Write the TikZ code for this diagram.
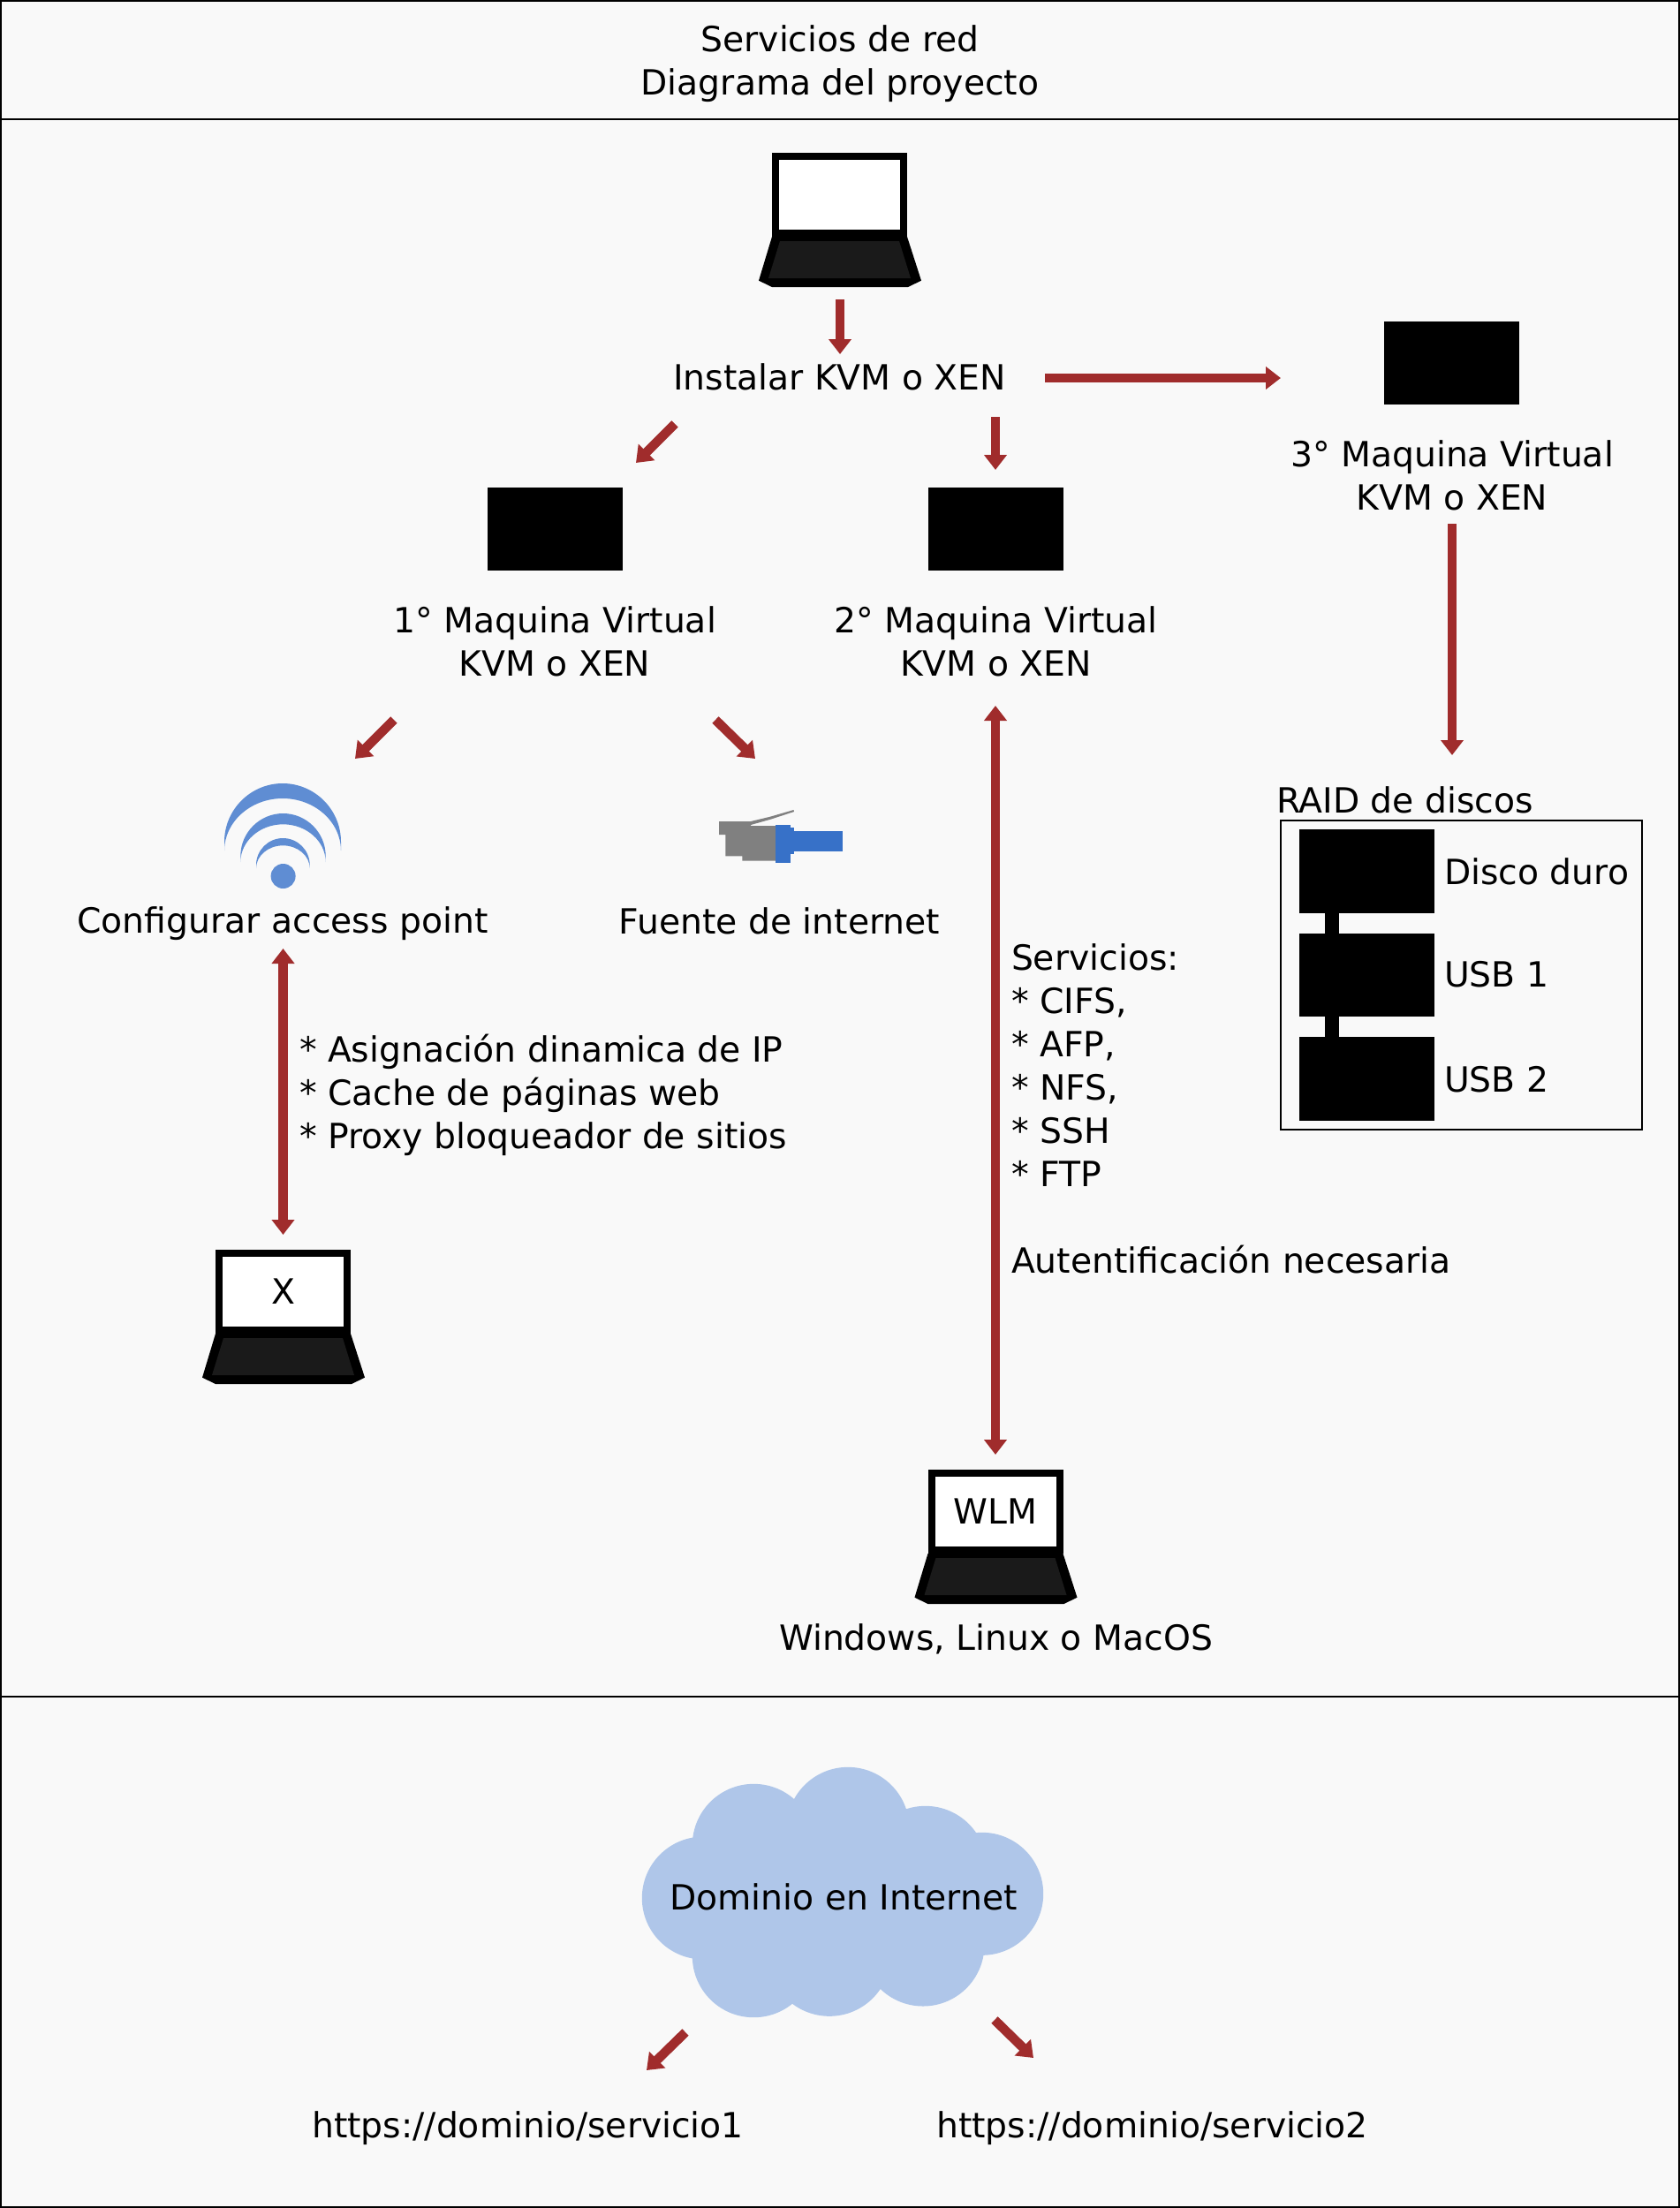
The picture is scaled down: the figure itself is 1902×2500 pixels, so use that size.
\documentclass[tikz,border=0pt]{standalone}
\usepackage{fontspec}
\setmainfont{DejaVu Sans}
\usetikzlibrary{arrows.meta}
\definecolor{paneFill}{HTML}{F9F9F9}
\definecolor{arrowRed}{HTML}{A02C2C}
\definecolor{wifiBlue}{HTML}{5F8DD3}
\definecolor{cloudBlue}{HTML}{AFC6E9}
\definecolor{plugBlue}{HTML}{3771C8}
\definecolor{keyDark}{HTML}{1A1A1A}
\definecolor{plugGray}{HTML}{808080}
\tikzset{
  pane/.style={draw=black,line width=2pt,fill=paneFill},
  lab/.style={inner sep=0pt,outer sep=0pt,align=center,font=\fontsize{39.3}{49}\selectfont},
  labl/.style={lab,align=left},
  arr/.style={draw=arrowRed,line width=10.5pt,-{Triangle[width=25pt,length=17pt,fill=arrowRed]}},
  arrb/.style={draw=arrowRed,line width=10.5pt,{Triangle[width=25pt,length=17pt,fill=arrowRed]}-{Triangle[width=25pt,length=17pt,fill=arrowRed]}},
  blk/.style={fill=black,inner sep=0pt,outer sep=0pt,minimum width=153pt,minimum height=94.6pt},
  screen/.style={draw=black,fill=white,line width=8pt,inner sep=0pt,outer sep=0pt,minimum width=145pt,minimum height=87pt,font=\fontsize{39.3}{49}\selectfont},
}
\newcommand{\Laptop}[4]{%
  \begin{scope}[shift={(#2,#3)}]
    \fill[black] (-76.5,95) -- (76.5,95) -- (92.5,144.7) -- (77.5,152) -- (-76.5,152) -- (-91.5,144.7) -- cycle;
    \fill[keyDark] (-67.5,100) -- (67.5,100) -- (80.5,142) -- (-80.5,142) -- cycle;
    \node[screen] (#1) at (0,47.5) {#4};
  \end{scope}}
\newcommand{\Crescent}[5]{% left, right, top, innertop, tip
  \fill[wifiBlue] (#1,#5) -- (#1,{#3+(#2-#1)/2}) .. controls (#1,{#3+0.45*(#2-#1)/2}) and ({(#1+#2)/2-0.55*(#2-#1)/2},#3) .. ({(#1+#2)/2},#3)
    .. controls ({(#1+#2)/2+0.55*(#2-#1)/2},#3) and (#2,{#3+0.45*(#2-#1)/2}) .. (#2,{#3+(#2-#1)/2}) -- (#2,#5)
    .. controls (#2,{#5-0.55*(#5-#4)}) and ({(#1+#2)/2+0.55*(#2-#1)/2},#4) .. ({(#1+#2)/2},#4)
    .. controls ({(#1+#2)/2-0.55*(#2-#1)/2},#4) and (#1,{#5-0.55*(#5-#4)}) .. (#1,#5) -- cycle;}
\begin{document}
\begin{tikzpicture}[x=1pt,y=-1pt]
\useasboundingbox (0,0) rectangle (1902,2500);
% panels
\draw[pane] (1,1) rectangle (1901,135);
\draw[pane] (1,135) rectangle (1901,1920.5);
\draw[pane] (1,1920.5) rectangle (1901,2499);
\node[lab] (title) at (951,72) {Servicios de red\\Diagrama del proyecto};
% laptops
\Laptop{lapTop}{950.5}{173}{}
\Laptop{lapX}{320.5}{1415}{X}
\Laptop{lapW}{1127}{1664}{WLM}
% main labels
\node[lab] (inst) at (950.5,427) {Instalar KVM o XEN};
\node[blk] (vmA) at (628,599) {};
\node[blk] (vmB) at (1127,599) {};
\node[blk] (vmC) at (1643.5,411) {};
\node[lab] (labA) at (628,726) {1° Maquina Virtual\\KVM o XEN};
\node[lab] (labB) at (1127.5,726) {2° Maquina Virtual\\KVM o XEN};
\node[lab] (labC) at (1644,538) {3° Maquina Virtual\\KVM o XEN};
% wifi icon
\Crescent{254}{386}{887}{904}{963}
\Crescent{272.3}{368.7}{921}{933.3}{976}
\Crescent{290}{350.7}{949}{957.3}{983}
\node[fill=wifiBlue,circle,inner sep=0pt,outer sep=0pt,minimum size=28pt] (ap) at (320.6,992) {};
\node[lab] (apLab) at (320,1046) {Configurar access point};
% plug icon
\fill[plugGray] (814,930) -- (850,930) -- (872,924.7) -- (898.5,917) -- (899,919) -- (873,927.5) -- (850,934) -- (850,935) -- (878,935) -- (878,974.7) -- (840.3,974.7) -- (840.3,969.3) -- (821.4,969.3) -- (821.4,945) -- (814,945) -- cycle;
\fill[plugBlue] (894,941) rectangle (953.7,964);
\fill[plugBlue] (894,937) rectangle (899.4,967);
\node[fill=plugBlue,inner sep=0pt,outer sep=0pt,minimum width=17pt,minimum height=43pt] (rj) at (886,955.2) {};
\node[lab] (netLab) at (882.5,1043) {Fuente de internet};
% service texts
\node[labl,anchor=west] (apTxt) at (339,1240) {* Asignación dinamica de IP\\* Cache de páginas web\\* Proxy bloqueador de sitios};
\node[labl,anchor=west] (svcTxt) at (1145,1255) {Servicios:\\* CIFS,\\* AFP,\\* NFS,\\* SSH\\* FTP\\[49pt]Autentificación necesaria};
\node[lab] (winLab) at (1127.5,1856) {Windows, Linux o MacOS};
% RAID
\node[draw=black,line width=2.5pt,inner sep=0pt,outer sep=0pt,minimum width=409pt,minimum height=350pt] (raid) at (1654.35,1104) {};
\node[lab,anchor=base west] (raidLab) at (1445,920) {RAID de discos};
\node[blk] (dA) at (1547.6,986.3) {};
\node[blk] (dB) at (1547.6,1103.8) {};
\node[blk] (dC) at (1547.6,1221.5) {};
\draw[black,line width=16pt] ([xshift=-39.3pt]dA.south) -- ([xshift=-39.3pt]dB.north);
\draw[black,line width=16pt] ([xshift=-39.3pt]dB.south) -- ([xshift=-39.3pt]dC.north);
\node[lab,anchor=base west] (dAl) at (1635,1001) {Disco duro};
\node[lab,anchor=base west] (dBl) at (1635,1117) {USB 1};
\node[lab,anchor=base west] (dCl) at (1635,1236) {USB 2};
% cloud
\fill[cloudBlue] (796.3,2149) circle (69.5pt) (853.3,2089.3) circle (69.5pt) (960,2070.3) circle (69.5pt)
  (1047.7,2114.3) circle (69.5pt) (1111.7,2144.3) circle (69.5pt) (1045,2202) circle (69.5pt)
  (939,2213.3) circle (69.5pt) (853.3,2214.7) circle (69.5pt) (960,2140) circle (100pt)
  (800,2090) rectangle (1110,2220);
\node[lab] (cloud) at (955,2148) {Dominio en Internet};
\node[lab] (urlA) at (597.5,2410) {https://dominio/servicio1};
\node[lab] (urlB) at (1304.5,2410) {https://dominio/servicio2};
% arrows
\draw[arr] ([shift={(0.5,118.5)}]lapTop.center) -- ([shift={(0.5,-26)}]inst.center);
\draw[arr] ([shift={(232.5,1)}]inst.center) -- ([shift={(-193.5,17)}]vmC.center);
\draw[arr] ([shift={(-186.5,53)}]inst.center) -- ([shift={(92,-75)}]vmA.center);
\draw[arr] ([shift={(176.5,45)}]inst.center) -- ([shift={(0,-67)}]vmB.center);
\draw[arr] ([shift={(0,55)}]labC.center) -- ([shift={(-10.35,-249)}]raid.center);
\draw[arr] ([shift={(-182,89)}]labA.center) -- ([shift={(81.4,-133)}]ap.center);
\draw[arr] ([shift={(182,89)}]labA.center) -- ([shift={(-31,-96.2)}]rj.center);
\draw[arrb] ([shift={(-0.5,73)}]labB.center) -- ([shift={(0,-64.5)}]lapW.center);
\draw[arrb] ([shift={(0.5,28)}]apLab.center) -- ([shift={(0,-64.5)}]lapX.center);
\draw[arr] ([shift={(-179,153)}]cloud.center) -- ([shift={(134.5,-66)}]urlA.center);
\draw[arr] ([shift={(171,139)}]cloud.center) -- ([shift={(-134.5,-80)}]urlB.center);
\end{tikzpicture}
\end{document}
